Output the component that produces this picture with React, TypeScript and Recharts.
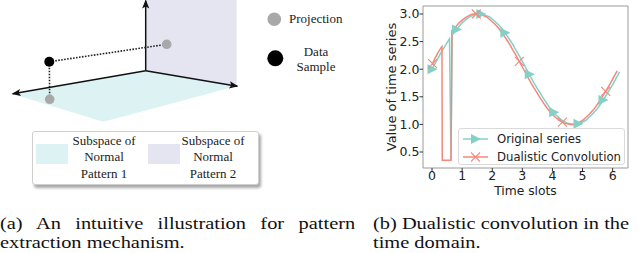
import React from 'react';
import { ComposedChart, Line, Area, Scatter, XAxis, YAxis, ReferenceArea, Label } from 'recharts';

// ---------------- Right panel (b): time series ----------------
const xTicks = [0, 1, 2, 3, 4, 5, 6];
const yTicks = [0.5, 1.0, 1.5, 2.0, 2.5, 3.0];

// [time slot, value]
const originalSeries: [number, number][] = [
  [0, 2.0], [0.1, 2.1], [0.2, 2.2], [0.3, 2.3], [0.4, 2.39], [0.5, 2.48], [0.58, 2.55], [0.63, 0.35],
  [0.67, 2.62], [0.7, 2.64], [0.8, 2.72], [0.9, 2.78], [1.0, 2.84], [1.1, 2.89], [1.2, 2.93], [1.3, 2.96],
  [1.4, 2.99], [1.5, 3.0], [1.6, 3.0], [1.7, 2.99], [1.8, 2.97], [1.9, 2.95], [2.0, 2.91], [2.1, 2.86],
  [2.2, 2.81], [2.3, 2.75], [2.4, 2.68], [2.5, 2.6], [2.6, 2.52], [2.7, 2.43], [2.8, 2.33], [2.9, 2.24],
  [3.0, 2.14], [3.1, 2.04], [3.2, 1.94], [3.3, 1.84], [3.4, 1.74], [3.5, 1.65], [3.6, 1.56], [3.7, 1.47],
  [3.8, 1.39], [3.9, 1.31], [4.0, 1.24], [4.1, 1.18], [4.2, 1.13], [4.3, 1.08], [4.4, 1.05], [4.5, 1.02],
  [4.6, 1.01], [4.7, 1.0], [4.8, 1.0], [4.9, 1.02], [5.0, 1.04], [5.1, 1.07], [5.2, 1.12], [5.3, 1.17],
  [5.4, 1.23], [5.5, 1.29], [5.6, 1.37], [5.7, 1.45], [5.8, 1.54], [5.9, 1.63], [6.0, 1.72], [6.1, 1.82],
  [6.2, 1.92], [6.23, 1.95],
];

const dualisticSeries: [number, number][] = [
  [0, 2.08], [0.1, 2.2], [0.2, 2.3], [0.3, 2.39], [0.33, 2.41], [0.34, 0.35], [0.63, 0.35], [0.66, 2.7],
  [0.7, 2.72], [0.8, 2.78], [0.9, 2.84], [1.0, 2.89], [1.1, 2.93], [1.2, 2.96], [1.3, 2.99], [1.4, 3.0],
  [1.5, 3.0], [1.6, 2.99], [1.7, 2.97], [1.8, 2.95], [1.9, 2.91], [2.0, 2.86], [2.1, 2.81], [2.2, 2.75],
  [2.3, 2.68], [2.4, 2.6], [2.5, 2.52], [2.6, 2.43], [2.7, 2.33], [2.8, 2.24], [2.9, 2.14], [3.0, 2.04],
  [3.1, 1.94], [3.2, 1.84], [3.3, 1.74], [3.4, 1.65], [3.5, 1.56], [3.6, 1.47], [3.7, 1.39], [3.8, 1.31],
  [3.9, 1.24], [4.0, 1.18], [4.1, 1.13], [4.2, 1.08], [4.3, 1.05], [4.4, 1.02], [4.5, 1.01], [4.6, 1.0],
  [4.7, 1.0], [4.8, 1.02], [4.9, 1.04], [5.0, 1.07], [5.1, 1.12], [5.2, 1.17], [5.3, 1.23], [5.4, 1.29],
  [5.5, 1.37], [5.6, 1.45], [5.7, 1.54], [5.8, 1.63], [5.9, 1.72], [6.0, 1.82], [6.1, 1.92], [6.15, 1.97],
];

const originalMarkers: [number, number][] = [
  [0, 2.0], [0.81, 2.72], [1.62, 3.0], [2.42, 2.66], [3.23, 1.91], [4.04, 1.22], [4.85, 1.01], [5.68, 1.44],
];
const dualisticMarkers: [number, number][] = [
  [0.02, 2.1], [1.47, 3.0], [2.9, 2.14], [4.33, 1.04], [5.77, 1.6],
];

const seriesNames = ['Original series', 'Dualistic Convolution'];

// ---------------- Left panel (a): illustration ----------------
// [x, upper, lower] in illustration units (y grows downward)
const floorPolygon: [number, number, number][] = [
  [13.3, 94.3, 94.3], [103.3, 78.3, 121.7], [145.7, 70.7, 110.4], [236.7, 86, 86],
];
const planePolygon: [number, number, number][] = [
  [145.7, -2, 70.7], [236.7, -2, 86],
];
const verticalAxis: [number, number][] = [[145.7, 70.7], [145.7, 0.6]];
const leftAxis: [number, number][] = [[145.7, 70.7], [12.7, 93.8]];
const rightAxis: [number, number][] = [[145.7, 70.7], [237.3, 86.2]];
const guideToPlane: [number, number][] = [[49.3, 61.7], [166.7, 44.3]];
const guideToFloor: [number, number][] = [[49.3, 61.7], [49.7, 99.3]];
const projectionPoints: [number, number][] = [[166.7, 44.3], [49.7, 99.3]];
const samplePoints: [number, number][] = [[49.3, 61.7]];

const TEAL = '#84d0c7';
const RED = '#f4887b';
const FLOOR = '#dcf2f3';
const PLANE = '#e5e5f2';
const SANS = '"DejaVu Sans", sans-serif';
const SERIF = '"Liberation Serif", "Times New Roman", serif';

const rows = (pairs: [number, number][]) => pairs.map(([x, y]) => ({ x, y }));
const rangeRows = (tri: [number, number, number][]) => tri.map(([x, a, b]) => ({ x, r: [a, b] }));

const arrowDot = (pts: [number, number][]) => (props: any) => {
  const { cx, cy, index } = props;
  if (index !== pts.length - 1) return <g key={`n${index}`} />;
  const [x0, y0] = pts[pts.length - 2];
  const [x1, y1] = pts[pts.length - 1];
  const ang = (Math.atan2(y1 - y0, x1 - x0) * 180) / Math.PI;
  return (
    <polygon
      key={`a${index}`}
      points="1,0 -8,-3.6 -6,0 -8,3.6"
      transform={`translate(${cx},${cy}) rotate(${ang})`}
      fill="#111"
    />
  );
};

const circleShape = (r: number, fill: string) => (props: any) => (
  <circle cx={props.cx} cy={props.cy} r={r} fill={fill} />
);

const triangleShape = (props: any) => {
  const { cx, cy } = props;
  return <polygon points={`${cx + 5.5},${cy} ${cx - 4.5},${cy - 5} ${cx - 4.5},${cy + 5}`} fill={TEAL} />;
};
const crossShape = (props: any) => {
  const { cx, cy } = props;
  const s = 4.5;
  return (
    <g stroke={RED} strokeWidth={1.1}>
      <line x1={cx - s} y1={cy - s} x2={cx + s} y2={cy + s} />
      <line x1={cx - s} y1={cy + s} x2={cx + s} y2={cy - s} />
    </g>
  );
};

const LeftPanel = () => (
  <div style={{ position: 'absolute', left: 0, top: 0, width: 370, height: 200 }}>
    <ComposedChart width={370} height={200} margin={{ top: 0, right: 0, bottom: 0, left: 0 }}>
      <XAxis type="number" dataKey="x" domain={[0, 370]} allowDataOverflow hide />
      <YAxis type="number" domain={[0, 200]} reversed allowDataOverflow hide />
      <Area data={rangeRows(planePolygon)} dataKey="r" type="linear" fill={PLANE} fillOpacity={1} stroke="none" isAnimationActive={false} dot={false} activeDot={false} />
      <Area data={rangeRows(floorPolygon)} dataKey="r" type="linear" fill={FLOOR} fillOpacity={1} stroke="none" isAnimationActive={false} dot={false} activeDot={false} />
      <Line data={rows(verticalAxis)} dataKey="y" type="linear" stroke="#111" strokeWidth={1.5} dot={arrowDot(verticalAxis)} activeDot={false} isAnimationActive={false} />
      <Line data={rows(leftAxis)} dataKey="y" type="linear" stroke="#111" strokeWidth={1.5} dot={arrowDot(leftAxis)} activeDot={false} isAnimationActive={false} />
      <Line data={rows(rightAxis)} dataKey="y" type="linear" stroke="#111" strokeWidth={1.5} dot={arrowDot(rightAxis)} activeDot={false} isAnimationActive={false} />
      <Line data={rows(guideToPlane)} dataKey="y" type="linear" stroke="#222" strokeWidth={1.6} strokeDasharray="1.6 1.4" dot={false} activeDot={false} isAnimationActive={false} />
      <Line data={rows(guideToFloor)} dataKey="y" type="linear" stroke="#222" strokeWidth={1.6} strokeDasharray="1.6 1.4" dot={false} activeDot={false} isAnimationActive={false} />
      <Scatter data={rows(projectionPoints)} dataKey="y" shape={circleShape(4.8, '#a8a8a8')} isAnimationActive={false} />
      <Scatter data={rows(samplePoints)} dataKey="y" shape={circleShape(5, '#000')} isAnimationActive={false} />
    </ComposedChart>

    {/* top-right legend */}
    <svg style={{ position: 'absolute', left: 262, top: 8 }} width={26} height={62}>
      <circle cx={12.3} cy={11.3} r={6.8} fill="#a8a8a8" />
      <circle cx={13.3} cy={50.3} r={8} fill="#000" />
    </svg>
    <div style={{ position: 'absolute', left: 289, top: 11, fontFamily: SERIF, fontSize: 13, lineHeight: '16px', color: '#222', whiteSpace: 'nowrap' }}>Projection</div>
    <div style={{ position: 'absolute', left: 286, width: 60, top: 43.5, fontFamily: SERIF, fontSize: 13, lineHeight: '15px', color: '#222', textAlign: 'center' }}>
      Data<br />Sample
    </div>

    {/* bottom legend box */}
    <div style={{ position: 'absolute', left: 32, top: 131, width: 227, height: 54, boxSizing: 'border-box', border: '1px solid #cfcfcf', borderRadius: 3, background: '#fff', boxShadow: '2px 3px 3px rgba(0,0,0,0.35)' }} />
    <div style={{ position: 'absolute', left: 36, top: 143.5, width: 32, height: 20, background: FLOOR }} />
    <div style={{ position: 'absolute', left: 148, top: 143.5, width: 32, height: 20, background: PLANE }} />
    <div style={{ position: 'absolute', left: 64, width: 80, top: 132.5, fontFamily: SERIF, fontSize: 13, lineHeight: '16.7px', color: '#222', textAlign: 'center' }}>
      Subspace of<br />Normal<br />Pattern 1
    </div>
    <div style={{ position: 'absolute', left: 173, width: 80, top: 132.5, fontFamily: SERIF, fontSize: 13, lineHeight: '16.7px', color: '#222', textAlign: 'center' }}>
      Subspace of<br />Normal<br />Pattern 2
    </div>
  </div>
);

const YLabel = (props: any) => {
  const vb = props.viewBox || {};
  const x = 25.5;
  const y = (vb.y ?? 6) + (vb.height ?? 162) / 2;
  return (
    <text x={x} y={y} transform={`rotate(-90, ${x}, ${y})`} textAnchor="middle" fontFamily={SANS} fontSize={13} fill="#222">
      Value of time series
    </text>
  );
};
const XLabel = (props: any) => {
  const vb = props.viewBox || {};
  const x = (vb.x ?? 53) + (vb.width ?? 205) / 2;
  const y = (vb.y ?? 168) + 27;
  return (
    <text x={x} y={y} textAnchor="middle" fontFamily={SANS} fontSize={12.3} fill="#222">
      Time slots
    </text>
  );
};

const legendHandles = [
  { name: seriesNames[0], color: TEAL, kind: 'tri' },
  { name: seriesNames[1], color: RED, kind: 'x' },
];

const RightPanel = () => (
  <div style={{ position: 'absolute', left: 370, top: 0, width: 270, height: 200 }}>
    <ComposedChart width={270} height={200} margin={{ top: 6, right: 12, bottom: 2, left: 13 }}>
      <XAxis
        type="number"
        dataKey="x"
        domain={[-0.3, 6.51]}
        allowDataOverflow
        ticks={xTicks}
        axisLine={false}
        tickLine={{ stroke: '#333' }}
        tickSize={3.5}
        tickMargin={0}
        height={30}
        tick={{ fontFamily: SANS, fontSize: 12.5, fill: '#222' }}
      >
        <Label content={XLabel} />
      </XAxis>
      <YAxis
        type="number"
        domain={[0.21, 3.145]}
        allowDataOverflow
        ticks={yTicks}
        tickFormatter={(v: number) => v.toFixed(1)}
        axisLine={false}
        tickLine={{ stroke: '#333' }}
        tickSize={3.5}
        tickMargin={0}
        width={40}
        tick={{ fontFamily: SANS, fontSize: 12.5, fill: '#222' }}
      >
        <Label content={YLabel} />
      </YAxis>
      <ReferenceArea x1={-0.3} x2={6.51} y1={0.21} y2={3.145} fill="none" stroke="#9a9a9a" strokeWidth={1} ifOverflow="visible" />
      <Line data={rows(originalSeries)} dataKey="y" name={seriesNames[0]} type="linear" stroke={TEAL} strokeWidth={1.5} dot={false} activeDot={false} isAnimationActive={false} />
      <Scatter data={rows(originalMarkers)} dataKey="y" shape={triangleShape} isAnimationActive={false} />
      <Line data={rows(dualisticSeries)} dataKey="y" name={seriesNames[1]} type="linear" stroke={RED} strokeWidth={1.5} dot={false} activeDot={false} isAnimationActive={false} />
      <Scatter data={rows(dualisticMarkers)} dataKey="y" shape={crossShape} isAnimationActive={false} />
    </ComposedChart>

    <div style={{ position: 'absolute', left: 88, top: 128, width: 167, height: 37, boxSizing: 'border-box', border: '1px solid #dadada', borderRadius: 3, background: 'rgba(255,255,255,0.85)' }}>
      {legendHandles.map((h, i) => (
        <div key={h.name} style={{ position: 'absolute', left: 0, top: 2 + i * 18, height: 16, width: 165 }}>
          <svg style={{ position: 'absolute', left: 4, top: 0 }} width={26} height={16}>
            <line x1={0} y1={8} x2={25} y2={8} stroke={h.color} strokeWidth={1.5} />
            {h.kind === 'tri' ? (
              <polygon points="18,8 8,3 8,13" fill={h.color} />
            ) : (
              <g stroke={h.color} strokeWidth={1.1}>
                <line x1={8} y1={3.5} x2={17} y2={12.5} />
                <line x1={8} y1={12.5} x2={17} y2={3.5} />
              </g>
            )}
          </svg>
          <div style={{ position: 'absolute', left: 38, top: 0, lineHeight: '16px', fontFamily: SANS, fontSize: 11.7, color: '#222', whiteSpace: 'nowrap' }}>
            {h.name}
          </div>
        </div>
      ))}
    </div>
  </div>
);

const captionStyle: React.CSSProperties = {
  position: 'absolute',
  fontFamily: SERIF,
  fontSize: 17,
  lineHeight: '19px',
  color: '#111',
  whiteSpace: 'nowrap',
  transform: 'scaleX(1.2)',
  transformOrigin: '0 0',
};

export default function App() {
  return (
    <div style={{ position: 'absolute', left: 0, top: 0, width: 640, height: 253, overflow: 'hidden', background: '#fff' }}>
      <LeftPanel />
      <RightPanel />
      <div style={{ ...captionStyle, left: 0, top: 213.8, width: 296, textAlign: 'justify', textAlignLast: 'justify' as any }}>
        (a) An intuitive illustration for pattern
      </div>
      <div style={{ ...captionStyle, left: 0, top: 232.8 }}>extraction mechanism.</div>
      <div style={{ ...captionStyle, left: 373, top: 213.8 }}>(b) Dualistic convolution in the</div>
      <div style={{ ...captionStyle, left: 373, top: 232.8 }}>time domain.</div>
    </div>
  );
}
